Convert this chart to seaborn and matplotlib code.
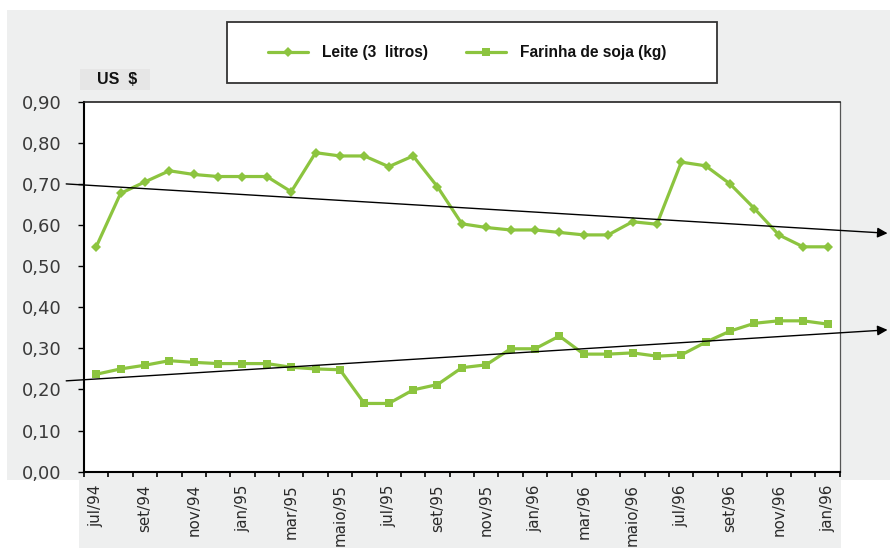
import matplotlib
matplotlib.use("Agg")
import matplotlib.pyplot as plt
import matplotlib.patches as mpatches
from matplotlib.lines import Line2D
from matplotlib.ticker import FixedLocator, FuncFormatter
import seaborn as sns
import pandas as pd

# ---------------- data ----------------
months = ["jul/94", "ago/94", "set/94", "out/94", "nov/94", "dez/94",
          "jan/95", "fev/95", "mar/95", "abr/95", "maio/95", "jun/95",
          "jul/95", "ago/95", "set/95", "out/95", "nov/95", "dez/95",
          "jan/96", "fev/96", "mar/96", "abr/96", "maio/96", "jun/96",
          "jul/96", "ago/96", "set/96", "out/96", "nov/96", "dez/96",
          "jan/97"]
tick_labels = ["jul/94", "set/94", "nov/94", "jan/95", "mar/95", "maio/95",
               "jul/95", "set/95", "nov/95", "jan/96", "mar/96", "maio/96",
               "jul/96", "set/96", "nov/96", "jan/96"]
leite = [0.547, 0.677, 0.705, 0.732, 0.723, 0.718, 0.718, 0.718, 0.681,
         0.776, 0.768, 0.768, 0.742, 0.768, 0.693, 0.603, 0.594, 0.588,
         0.588, 0.582, 0.576, 0.576, 0.608, 0.602, 0.753, 0.744, 0.700,
         0.640, 0.576, 0.547, 0.547]
soja = [0.237, 0.250, 0.259, 0.270, 0.266, 0.263, 0.263, 0.263, 0.254,
        0.250, 0.248, 0.166, 0.166, 0.199, 0.212, 0.253, 0.260, 0.299,
        0.299, 0.330, 0.286, 0.286, 0.289, 0.281, 0.284, 0.315, 0.342,
        0.361, 0.367, 0.367, 0.359]
# trend lines (start / end, in month-index units)
trend_x = [-1.23, 32.46]
leite_trend = [0.700, 0.580]
soja_trend = [0.221, 0.345]
y_ticks = [0.0, 0.1, 0.2, 0.3, 0.4, 0.5, 0.6, 0.7, 0.8, 0.9]
label_leite = "Leite (3  litros)"
label_soja = "Farinha de soja (kg)"

GREEN = "#8cc43f"
BG = "#eeefef"

sns.set_style("white")
plt.rcParams["font.family"] = ["DejaVu Sans"]

df = pd.DataFrame({"idx": range(len(months)), "mes": months,
                   "leite": leite, "soja": soja})

W, H = 890, 548
fig = plt.figure(figsize=(W / 100, H / 100), dpi=100)
fig.patch.set_facecolor("white")

def fx(px):
    return px / W

def fy(py):
    return 1 - py / H

# grey backgrounds
fig.patches.append(mpatches.Rectangle((fx(7), fy(480)), fx(890 - 7), (480 - 10) / H,
                                      transform=fig.transFigure, fc=BG, ec="none", zorder=-10))
fig.patches.append(mpatches.Rectangle((fx(79), fy(548)), fx(841 - 79), (548 - 480) / H,
                                      transform=fig.transFigure, fc=BG, ec="none", zorder=-10))
# "US $" box
fig.patches.append(mpatches.Rectangle((fx(80), fy(90)), fx(70), 21 / H,
                                      transform=fig.transFigure, fc="#e6e6e6", ec="none", zorder=-5))
fig.text(fx(117), fy(80), "US  $", ha="center", va="center", fontsize=11.5,
         fontweight="bold", family=["Liberation Sans", "DejaVu Sans"], color="#111111", zorder=2)

# legend frame
fig.patches.append(mpatches.Rectangle((fx(227), fy(83)), fx(717 - 227), (83 - 22) / H,
                                      transform=fig.transFigure, fc="white", ec="#333333",
                                      lw=1.3, zorder=-4))

ax = fig.add_axes([fx(84), fy(471.7), fx(840 - 84), 370 / H])
ax.set_zorder(2)
ax.set_facecolor("white")

sns.lineplot(data=df, x="idx", y="leite", ax=ax, color=GREEN, lw=2.3,
             marker="D", markersize=5.5, markeredgewidth=0, legend=False, zorder=3)
sns.lineplot(data=df, x="idx", y="soja", ax=ax, color=GREEN, lw=2.3,
             marker="s", markersize=6, markeredgewidth=0, legend=False, zorder=3)

for tr in (leite_trend, soja_trend):
    ax.annotate("", xy=(trend_x[1], tr[1]), xytext=(trend_x[0], tr[0]),
                xycoords="data", textcoords="data", annotation_clip=False,
                arrowprops=dict(arrowstyle="-|>", color="black", lw=1.0,
                                mutation_scale=15, shrinkA=0, shrinkB=0),
                zorder=4)

ax.set_xlim(-0.45, 30.51)
ax.set_ylim(0, 0.9)
ax.set_xlabel("")
ax.set_ylabel("")

ax.yaxis.set_major_locator(FixedLocator(y_ticks))
ax.yaxis.set_major_formatter(FuncFormatter(lambda v, p: f"{v:.2f}".replace(".", ",")))
ax.tick_params(axis="y", which="major", length=4, width=1, color="black",
               direction="out", pad=12, labelsize=13, labelcolor="#3a3a3a", left=True)

ax.set_xticks(list(range(0, len(months), 2)))
ax.set_xticklabels(tick_labels, rotation=90)
ax.set_xticks([i - 0.5 for i in range(len(months) + 1)], minor=True)
ax.tick_params(axis="x", which="major", length=0, pad=9, labelsize=10.9,
               labelcolor="#2a2a2a", bottom=True)
ax.tick_params(axis="x", which="minor", length=3.5, width=1.2, color="black",
               direction="out", bottom=True)

for s in ["left", "bottom"]:
    ax.spines[s].set_color("black")
    ax.spines[s].set_linewidth(1.5)
ax.spines["top"].set_color("#222222")
ax.spines["top"].set_linewidth(1.2)
ax.spines["right"].set_color("#555555")
ax.spines["right"].set_linewidth(0.9)
for s in ax.spines.values():
    s.set_visible(True)
ax.grid(False)

handles = [Line2D([], [], color=GREEN, lw=2.3, marker="D", markersize=5, markeredgewidth=0),
           Line2D([], [], color=GREEN, lw=2.3, marker="s", markersize=5.5, markeredgewidth=0)]
leg = fig.legend(handles, [label_leite, label_soja], loc="center left",
                 bbox_to_anchor=(fx(268), fy(52.5)), ncol=2, frameon=False,
                 handlelength=2.6, handletextpad=0.9, columnspacing=2.4,
                 borderpad=0, borderaxespad=0,
                 prop=dict(family=["Liberation Sans", "DejaVu Sans"], weight="bold", size=11.2))
for t in leg.get_texts():
    t.set_color("#111111")
leg.set_zorder(5)

fig.savefig("out.png", dpi=100, facecolor="white")
